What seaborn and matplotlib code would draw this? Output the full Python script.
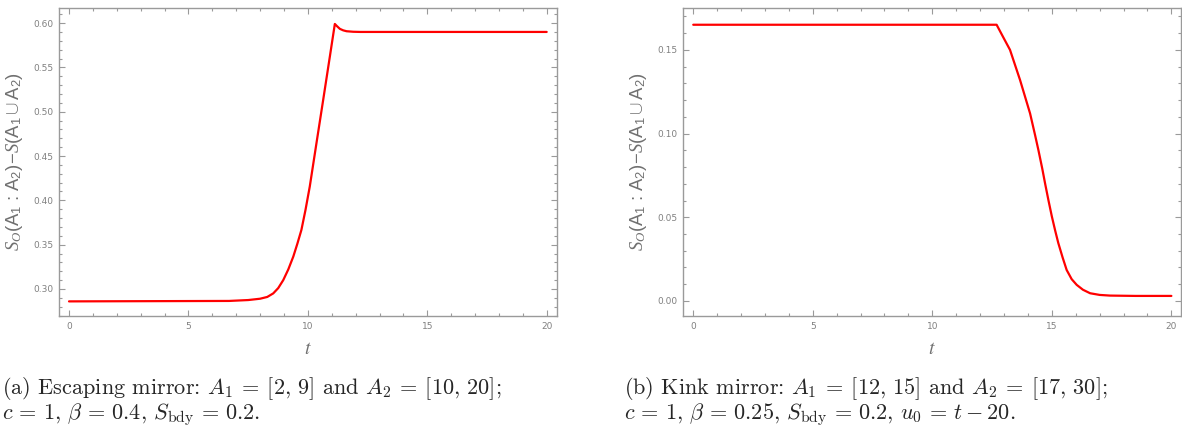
import numpy as np
import pandas as pd
import matplotlib
matplotlib.use("Agg")
import matplotlib.pyplot as plt
import seaborn as sns
from matplotlib.ticker import MultipleLocator, FormatStrFormatter

# values
t_escape = [0, 6.7, 7.5, 8.0, 8.3, 8.55, 8.76, 8.97, 9.18, 9.39, 9.56, 9.73,
            9.9, 10.08, 10.36, 10.64, 10.92, 11.13, 11.22, 11.34, 11.48,
            11.62, 11.9, 12.2, 20]
s_escape = [0.286, 0.2865, 0.2875, 0.289, 0.291, 0.295, 0.301, 0.310, 0.322,
            0.3365, 0.351, 0.3666, 0.389, 0.4155, 0.4644, 0.513, 0.562, 0.599,
            0.5965, 0.5935, 0.5918, 0.5908, 0.5902, 0.590, 0.590]

t_kink = [0, 12.69, 12.95, 13.25, 13.67, 14.09, 14.3, 14.44, 14.6, 14.72,
          14.86, 15.0, 15.14, 15.27, 15.45, 15.62, 15.83, 16.04, 16.3, 16.6,
          17.0, 17.43, 18.5, 20]
s_kink = [0.165, 0.165, 0.158, 0.150, 0.132, 0.112, 0.099, 0.090, 0.079,
          0.070, 0.060, 0.0505, 0.042, 0.0346, 0.026, 0.0185, 0.013, 0.0096,
          0.0067, 0.0046, 0.0036, 0.0032, 0.003, 0.003]

captions = [
    "(a) Escaping mirror: $A_1 \\:=\\: [2,\\,9]$ and $A_2 \\:=\\: [10,\\,20]$;\n"
    "$c \\,=\\, 1,\\,\\beta \\,=\\, 0.4,\\,S_{\\mathrm{bdy}} \\,=\\, 0.2.$",
    "(b) Kink mirror: $A_1 \\:=\\: [12,\\,15]$ and $A_2 \\:=\\: [17,\\,30]$;\n"
    "$c \\,=\\, 1,\\,\\beta \\,=\\, 0.25,\\,S_{\\mathrm{bdy}} \\,=\\, 0.2,"
    "\\,u_0 \\,=\\, t-20.$",
]

sns.set_style("ticks")
plt.rcParams["mathtext.fontset"] = "custom"
plt.rcParams["mathtext.rm"] = "Liberation Sans"
plt.rcParams["mathtext.it"] = "Liberation Serif:italic"

GRAY = "#9a9a9a"
LABEL_GRAY = "#808080"
ylabel = r"$S_O(\mathrm{A}_1\,\mathrm{:}\,\mathrm{A}_2)\!-\!S(\mathrm{A}_1\cup\mathrm{A}_2)$"

fig = plt.figure(figsize=(11.82, 4.26), dpi=100)
ax1 = fig.add_axes([0.0499, 0.2582, 0.4213, 0.723])
ax2 = fig.add_axes([0.5778, 0.2582, 0.4213, 0.723])

df1 = pd.DataFrame({"t": t_escape, "s": s_escape})
df2 = pd.DataFrame({"t": t_kink, "s": s_kink})

sns.lineplot(data=df1, x="t", y="s", ax=ax1, color="red", lw=1.6, sort=False)
sns.lineplot(data=df2, x="t", y="s", ax=ax2, color="red", lw=1.6, sort=False)

ax1.set_xlim(-0.42, 20.43)
ax1.set_ylim(0.2695, 0.617)
ax2.set_xlim(-0.43, 20.4)
ax2.set_ylim(-0.009, 0.175)

for ax in (ax1, ax2):
    ax.xaxis.set_major_locator(MultipleLocator(5))
    ax.xaxis.set_minor_locator(MultipleLocator(1))
    ax.yaxis.set_major_locator(MultipleLocator(0.05))
    ax.yaxis.set_minor_locator(MultipleLocator(0.01))
    ax.xaxis.set_major_formatter(FormatStrFormatter("%d"))
    ax.yaxis.set_major_formatter(FormatStrFormatter("%.2f"))
    ax.tick_params(which="both", direction="in", top=True, right=True,
                   color=GRAY, labelcolor=LABEL_GRAY, labelsize=6.5, width=0.8)
    ax.tick_params(which="major", length=4, pad=4)
    ax.tick_params(which="minor", length=2)
    for sp in ax.spines.values():
        sp.set_color(GRAY)
        sp.set_linewidth(1.0)
    ax.set_xlabel("$t$", fontsize=14, color="#707070", labelpad=6,
                  math_fontfamily="stix")
    ax.set_ylabel(ylabel, fontsize=13.3, color="#707070", labelpad=6,
                  math_fontfamily="custom")
    ax.grid(False)

for x0, cap in zip([0.002, 0.528], captions):
    fig.text(x0, 1 - 419 / 426, cap, family="cmr10", math_fontfamily="cm",
             fontsize=16, va="baseline", ha="left", linespacing=0.92)

fig.savefig("out.png", dpi=100)
